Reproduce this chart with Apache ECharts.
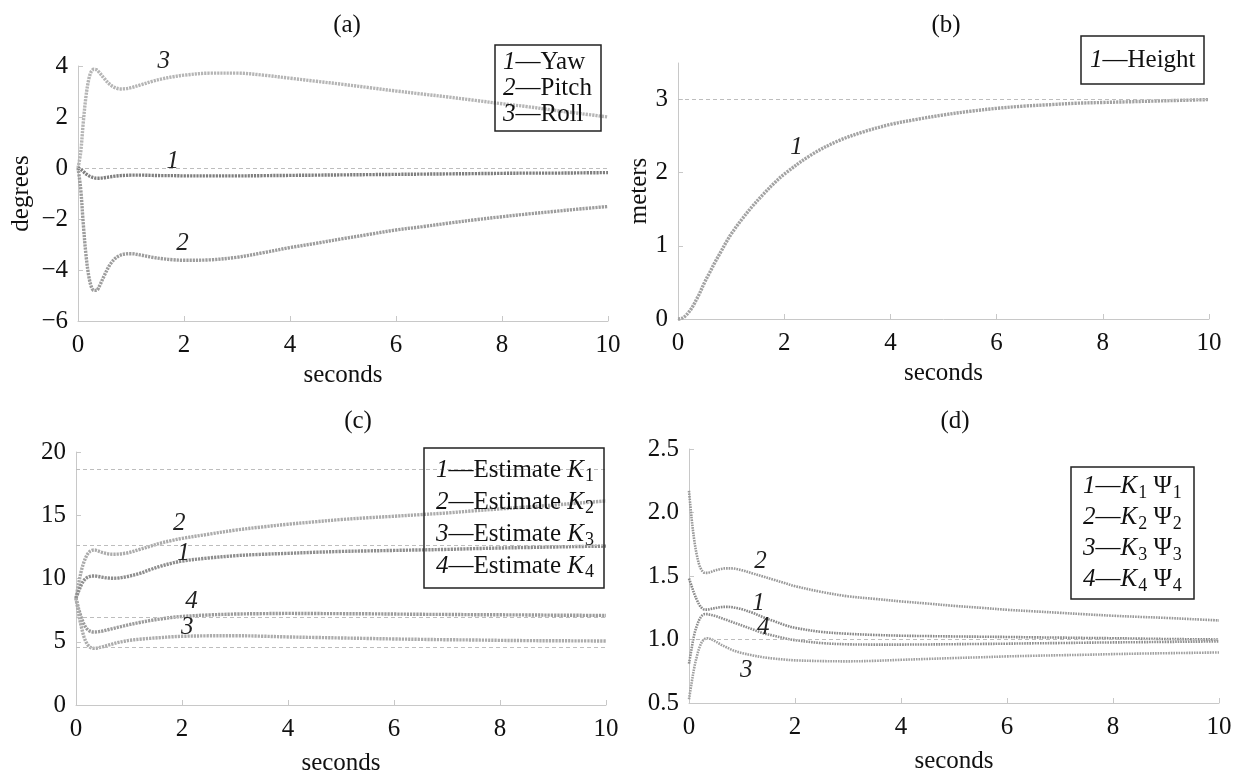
<!DOCTYPE html>
<html>
<head>
<meta charset="utf-8">
<script src="https://cdn.jsdelivr.net/npm/echarts@6/dist/echarts.min.js"></script>
<style>
  html, body { margin: 0; padding: 0; background: #fff; }
  #chart { width: 1240px; height: 777px; }
</style>
</head>
<body>
<div id="chart"></div>
<script>
// sample times (s), shared by every curve
var times = [0, 0.05, 0.1, 0.15, 0.2, 0.25, 0.3, 0.35, 0.4, 0.5, 0.6, 0.7, 0.8, 0.9, 1.0,
  1.2, 1.4, 1.6, 1.8, 2.0, 2.5, 3, 3.5, 4, 4.5, 5, 5.5, 6, 6.5, 7, 7.5, 8, 8.5, 9, 9.5, 10];

// (a) attitude, degrees
var yaw = [0, -0.05, -0.14, -0.23, -0.3, -0.35, -0.38, -0.4, -0.4, -0.38, -0.35, -0.32, -0.3, -0.29, -0.28,
  -0.28, -0.29, -0.3, -0.3, -0.31, -0.31, -0.31, -0.3, -0.29, -0.28, -0.27, -0.26, -0.25, -0.24, -0.23, -0.22, -0.21, -0.2, -0.2, -0.19, -0.18];
var pitch = [0, -0.8, -2.2, -3.4, -4.2, -4.65, -4.8, -4.8, -4.65, -4.2, -3.8, -3.55, -3.42, -3.37, -3.36,
  -3.42, -3.5, -3.56, -3.6, -3.62, -3.6, -3.5, -3.32, -3.12, -2.95, -2.77, -2.6, -2.43, -2.3, -2.16, -2.03, -1.91, -1.8, -1.7, -1.6, -1.51];
var roll = [0, 0.6, 1.8, 2.8, 3.45, 3.78, 3.87, 3.85, 3.75, 3.5, 3.28, 3.15, 3.1, 3.11, 3.15,
  3.27, 3.4, 3.5, 3.58, 3.64, 3.72, 3.72, 3.64, 3.52, 3.4, 3.28, 3.15, 3.02, 2.9, 2.78, 2.65, 2.52, 2.4, 2.26, 2.13, 2.0];

// (b) height, meters
var height = [0, 0.005, 0.02, 0.05, 0.09, 0.14, 0.2, 0.27, 0.34, 0.5, 0.64, 0.78, 0.91, 1.04, 1.16,
  1.36, 1.54, 1.7, 1.85, 1.98, 2.24, 2.43, 2.56, 2.66, 2.73, 2.79, 2.84, 2.88, 2.91, 2.93, 2.95, 2.96, 2.97, 2.98, 2.99, 3.0];

// (c) gain estimates
var estK1 = [8.45, 9.0, 9.5, 9.85, 10.05, 10.15, 10.2, 10.2, 10.17, 10.1, 10.04, 10.02, 10.04, 10.1, 10.18,
  10.4, 10.7, 10.98, 11.2, 11.38, 11.62, 11.8, 11.91, 11.99, 12.07, 12.14, 12.18, 12.22, 12.26, 12.3, 12.36, 12.41, 12.45, 12.49, 12.53, 12.56];
var estK2 = [8.45, 9.6, 10.6, 11.3, 11.8, 12.1, 12.22, 12.25, 12.2, 12.05, 11.95, 11.92, 11.93, 11.98, 12.05,
  12.3, 12.55, 12.8, 13.0, 13.17, 13.5, 13.82, 14.07, 14.29, 14.48, 14.66, 14.8, 14.92, 15.05, 15.18, 15.35, 15.5, 15.65, 15.8, 15.97, 16.13];
var estK3 = [8.45, 7.2, 6.2, 5.4, 4.9, 4.62, 4.5, 4.48, 4.5, 4.6, 4.72, 4.84, 4.95, 5.03, 5.11,
  5.2, 5.27, 5.33, 5.39, 5.43, 5.47, 5.48, 5.44, 5.38, 5.34, 5.3, 5.26, 5.22, 5.19, 5.16, 5.14, 5.11, 5.09, 5.08, 5.07, 5.06];
var estK4 = [8.45, 7.6, 6.9, 6.4, 6.05, 5.87, 5.79, 5.77, 5.78, 5.85, 5.95, 6.05, 6.15, 6.25, 6.35,
  6.52, 6.68, 6.8, 6.92, 7.0, 7.12, 7.19, 7.22, 7.24, 7.23, 7.22, 7.21, 7.19, 7.17, 7.16, 7.14, 7.13, 7.12, 7.1, 7.09, 7.08];

// (d) K_i * Psi_i
var kPsi1 = [1.48, 1.42, 1.36, 1.31, 1.27, 1.245, 1.235, 1.235, 1.24, 1.248, 1.255, 1.257, 1.255, 1.248, 1.238,
  1.21, 1.175, 1.145, 1.115, 1.092, 1.06, 1.045, 1.036, 1.03, 1.027, 1.024, 1.022, 1.02, 1.017, 1.015, 1.012, 1.01, 1.007, 1.004, 1.002, 1.0];
var kPsi2 = [2.17, 1.95, 1.78, 1.66, 1.58, 1.54, 1.525, 1.525, 1.53, 1.545, 1.555, 1.56, 1.56, 1.555, 1.545,
  1.52, 1.495, 1.47, 1.445, 1.42, 1.375, 1.34, 1.32, 1.3, 1.283, 1.265, 1.25, 1.234, 1.222, 1.21, 1.198, 1.187, 1.178, 1.17, 1.16, 1.15];
var kPsi3 = [0.53, 0.66, 0.78, 0.87, 0.94, 0.985, 1.005, 1.01, 1.005, 0.985, 0.96, 0.94, 0.92, 0.905, 0.893,
  0.875, 0.86, 0.85, 0.842, 0.836, 0.83, 0.828, 0.832, 0.84, 0.847, 0.854, 0.86, 0.867, 0.872, 0.876, 0.88, 0.885, 0.889, 0.892, 0.895, 0.898];
var kPsi4 = [0.81, 0.93, 1.04, 1.11, 1.16, 1.19, 1.2, 1.2, 1.195, 1.185, 1.17, 1.155, 1.14, 1.125, 1.11,
  1.08, 1.05, 1.03, 1.01, 0.995, 0.972, 0.962, 0.96, 0.96, 0.961, 0.963, 0.965, 0.967, 0.97, 0.972, 0.975, 0.977, 0.979, 0.981, 0.983, 0.985];

// dashed reference levels
var refA = [0];
var refB = [3];
var refC = [18.6, 12.6, 6.9, 4.6];
var refD = [1.0];

// curve number tags: [t, value]
var tagA = { yaw: [1.79, 0.24], pitch: [1.97, -2.95], roll: [1.62, 4.0] };
var tagB = { height: [2.23, 2.35] };
var tagC = { k1: [2.03, 11.99], k2: [1.95, 14.35], k3: [2.1, 6.17], k4: [2.18, 8.19] };
var tagD = { k1: [1.31, 1.287], k2: [1.35, 1.614], k3: [1.08, 0.76], k4: [1.4, 1.098] };

var serif = '"Liberation Serif", "Times New Roman", serif';
var ink = '#111';
var axisGrey = '#c8c8c8';

function zip(vals) {
  return times.map(function(t, i) { return [t, vals[i]]; });
}

function refLines(levels) {
  return {
    silent: true,
    symbol: 'none',
    label: { show: false },
    lineStyle: { color: '#bdbdbd', type: [4, 3], width: 1 },
    data: levels.map(function(v) { return { yAxis: v }; })
  };
}

function tag(text, pos, dy) {
  return {
    symbol: 'circle',
    symbolSize: 0,
    silent: true,
    label: { show: true, position: 'inside', formatter: text, color: '#222', offset: [0, dy || 0],
      fontFamily: serif, fontStyle: 'italic', fontSize: 25 },
    data: [{ coord: pos }]
  };
}

function curve(idx, vals, color, width, dash, tagText, tagPos, refs, tagDy) {
  var s = {
    type: 'line',
    xAxisIndex: idx,
    yAxisIndex: idx,
    data: zip(vals),
    showSymbol: false,
    smooth: 0.35,
    clip: false,
    lineStyle: { color: color, width: width, type: dash, cap: 'butt' },
    markPoint: tag(tagText, tagPos, tagDy),
    z: 3
  };
  if (refs) s.markLine = refLines(refs);
  return s;
}

function xAx(idx, gap) {
  return {
    gridIndex: idx, type: 'value', min: 0, max: 10, interval: 2,
    name: 'seconds', nameLocation: 'middle', nameGap: gap,
    nameTextStyle: { fontFamily: serif, fontSize: 25, color: ink },
    axisLine: { onZero: false, lineStyle: { color: axisGrey } },
    axisTick: { inside: true, length: 5, lineStyle: { color: axisGrey } },
    axisLabel: { fontFamily: serif, fontSize: 25, color: ink, margin: 12 },
    splitLine: { show: false }
  };
}

function yAx(idx, min, max, interval, name, gap, fmt) {
  return {
    gridIndex: idx, type: 'value', min: min, max: max, interval: interval,
    name: name, nameLocation: 'middle', nameGap: gap,
    nameTextStyle: { fontFamily: serif, fontSize: 25, color: ink },
    axisLine: { show: true, lineStyle: { color: axisGrey } },
    axisTick: { show: true, inside: true, length: 5, lineStyle: { color: axisGrey } },
    axisLabel: { fontFamily: serif, fontSize: 25, color: ink, margin: 10, showMaxLabel: max % interval === 0,
      formatter: fmt || function(v) { return String(v).replace('-', '\u2212'); } },
    splitLine: { show: false }
  };
}

function legendBox(text, left, top, lh, pad) {
  return {
    text: text, left: left, top: top,
    padding: pad,
    borderColor: '#222', borderWidth: 1.5,
    textStyle: {
      fontFamily: serif, fontSize: 25, fontWeight: 'normal', color: ink, lineHeight: lh,
      rich: {
        i: { fontFamily: serif, fontSize: 25, fontStyle: 'italic', color: ink, lineHeight: lh },
        t: { fontFamily: serif, fontSize: 25, color: ink, lineHeight: lh },
        s: { fontFamily: serif, fontSize: 18, color: ink, lineHeight: lh, padding: [13, 0, 0, 1] }
      }
    }
  };
}

function panelTitle(text, x, y) {
  return { type: 'text', x: x, y: y,
    style: { text: text, fontFamily: serif, fontSize: 25, fill: ink, align: 'center', verticalAlign: 'middle' } };
}

var chart = echarts.init(document.getElementById('chart'), null, { renderer: 'canvas' });
chart.setOption({
  animation: false,
  backgroundColor: '#fff',
  title: [
    legendBox('{i|1}{t|\u2014Yaw}\n{i|2}{t|\u2014Pitch}\n{i|3}{t|\u2014Roll}', 495, 45, 26, [4, 9, 4, 8]),
    legendBox('{i|1}{t|\u2014Height}', 1081, 36, 28, [10, 9, 10, 9]),
    legendBox('{i|1}{t|\u2014Estimate }{i|K}{s|1}\n{i|2}{t|\u2014Estimate }{i|K}{s|2}\n{i|3}{t|\u2014Estimate }{i|K}{s|3}\n{i|4}{t|\u2014Estimate }{i|K}{s|4}', 424, 448, 32, [6, 10, 6, 12]),
    legendBox('{i|1}{t|\u2014}{i|K}{s|1}{t| \u03A8}{s|1}\n{i|2}{t|\u2014}{i|K}{s|2}{t| \u03A8}{s|2}\n{i|3}{t|\u2014}{i|K}{s|3}{t| \u03A8}{s|3}\n{i|4}{t|\u2014}{i|K}{s|4}{t| \u03A8}{s|4}', 1071, 467, 31, [4, 12, 4, 12])
  ],
  graphic: [
    panelTitle('(a)', 347, 25),
    panelTitle('(b)', 946, 25),
    panelTitle('(c)', 358, 421),
    panelTitle('(d)', 955, 421)
  ],
  grid: [
    { left: 78, right: 632, top: 66, bottom: 456 },
    { left: 678, right: 31, top: 63, bottom: 458 },
    { left: 76, right: 634, top: 452, bottom: 71 },
    { left: 689, right: 21, top: 449, bottom: 74 }
  ],
  xAxis: [xAx(0, 42), xAx(1, 42), xAx(2, 46), xAx(3, 46)],
  yAxis: [
    yAx(0, -6, 4, 2, 'degrees', 44),
    yAx(1, 0, 3.5, 1, 'meters', 25),
    yAx(2, 0, 20, 5, '', 0),
    yAx(3, 0.5, 2.5, 0.5, '', 0, function(v) { return v.toFixed(1); })
  ],
  series: [
    curve(0, roll, '#b5b5b5', 3.4, [2.2, 1], '3', tagA.roll, refA, -5),
    curve(0, pitch, '#9d9d9d', 3.4, [2.2, 1], '2', tagA.pitch),
    curve(0, yaw, '#7f7f7f', 3.4, [2.2, 1], '1', tagA.yaw),
    curve(1, height, '#a3a3a3', 3.4, [2.2, 1], '1', tagB.height, refB),
    curve(2, estK2, '#ababab', 3.4, [2.2, 1], '2', tagC.k2, refC),
    curve(2, estK1, '#8e8e8e', 3.4, [2.2, 1], '1', tagC.k1),
    curve(2, estK4, '#9c9c9c', 3.4, [2.2, 1], '4', tagC.k4),
    curve(2, estK3, '#acacac', 3.4, [2.2, 1], '3', tagC.k3),
    curve(3, kPsi2, '#999999', 2.6, [1.6, 1], '2', tagD.k2, refD),
    curve(3, kPsi1, '#888888', 2.6, [1.6, 1], '1', tagD.k1),
    curve(3, kPsi4, '#8f8f8f', 2.6, [1.6, 1], '4', tagD.k4),
    curve(3, kPsi3, '#a0a0a0', 2.6, [1.6, 1], '3', tagD.k3)
  ]
});
window.addEventListener('resize', function() { chart.resize(); });
</script>
</body>
</html>
